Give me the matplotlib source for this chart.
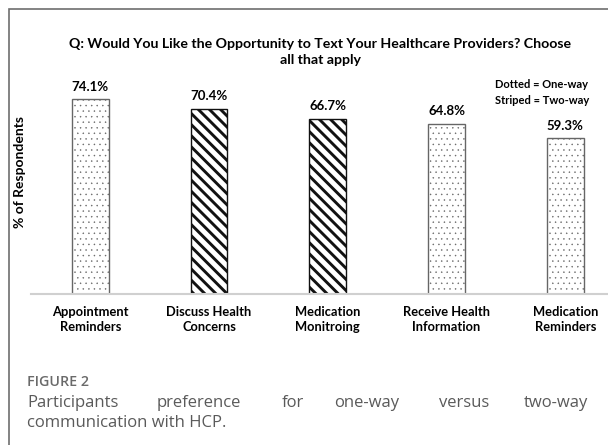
import matplotlib.pyplot as plt
from matplotlib.patches import Rectangle

categories = ["Appointment\nReminders", "Discuss Health\nConcerns", "Medication\nMonitroing",
              "Receive Health\nInformation", "Medication\nReminders"]
values = [74.1, 70.4, 66.7, 64.8, 59.3]
kinds = ["one", "two", "two", "one", "one"]   # one-way = dotted, two-way = striped

W, H = 608, 445
plt.rcParams['font.family'] = ['Lato', 'DejaVu Sans']

fig = plt.figure(figsize=(W / 100, H / 100), dpi=100)

def px(x, y):
    return x / W, 1 - y / H

# card border (top + left)
fig.add_artist(Rectangle(px(9, 520), 1.2, (520 - 9) / H, transform=fig.transFigure,
                         facecolor='none', edgecolor='#6e6e6e', linewidth=1.2))

# axes: baseline at y=294 px, 2.625 px per percent
left, right = 31, 608
bottom = 294
top = bottom - 80 * 2.625
ax = fig.add_axes([left / W, 1 - bottom / H, (right - left) / W, (bottom - top) / H])

for i, (v, k) in enumerate(zip(values, kinds)):
    if k == "one":
        with plt.rc_context({'hatch.linewidth': 0.3}):
            ax.bar(i, v, width=0.31, facecolor='white', edgecolor='#666666', hatch='...', linewidth=1)
    else:
        with plt.rc_context({'hatch.linewidth': 2.1}):
            ax.bar(i, v, width=0.31, facecolor='white', edgecolor='#111111', hatch='\\\\\\', linewidth=1)
    ax.text(i, v + 2.6, f"{v}%", ha='center', va='bottom', fontsize=9.5, fontweight='bold')

ax.set_xlim(-0.5, 4.36)
ax.set_ylim(0, 80)
ax.set_xticks(range(len(categories)))
ax.set_xticklabels(categories, fontsize=9.3, fontweight='bold', linespacing=1.25)
ax.tick_params(axis='x', length=0, pad=9)
ax.set_yticks([])
for s in ['top', 'right', 'left']:
    ax.spines[s].set_visible(False)
ax.spines['bottom'].set_color('#d0d0d0')
ax.spines['bottom'].set_linewidth(1.5)

fig.text(*px(20, 172), "% of Respondents", rotation=90, ha='center', va='center',
         fontsize=10, fontweight='bold')

fig.text(*px(320, 52), "Q: Would You Like the Opportunity to Text Your Healthcare Providers? Choose\nall that apply",
         ha='center', va='center', fontsize=10.2, fontweight='bold', linespacing=1.3)

fig.text(*px(495, 85), "Dotted = One-way", ha='left', va='center', fontsize=8, fontweight='bold')
fig.text(*px(495, 100), "Striped = Two-way", ha='left', va='center', fontsize=8, fontweight='bold')

# caption (justified first line)
fig.text(*px(27, 382), "FIGURE 2", ha='left', va='center', fontsize=10.3, color='#6a6a6a',
         family=['Open Sans', 'DejaVu Sans'], fontweight='semibold')
words = ["Participants", "preference", "for", "one-way", "versus", "two-way"]
word_x = [27, 157, 282, 334, 439, 524]
for w, x in zip(words, word_x):
    fig.text(*px(x, 403), w, ha='left', va='center', fontsize=12, color='#5a5a5a',
             family=['Open Sans', 'DejaVu Sans'])
fig.text(*px(27, 423), "communication with HCP.", ha='left', va='center', fontsize=12, color='#5a5a5a',
         family=['Open Sans', 'DejaVu Sans'])

fig.savefig("out.png", dpi=100)
